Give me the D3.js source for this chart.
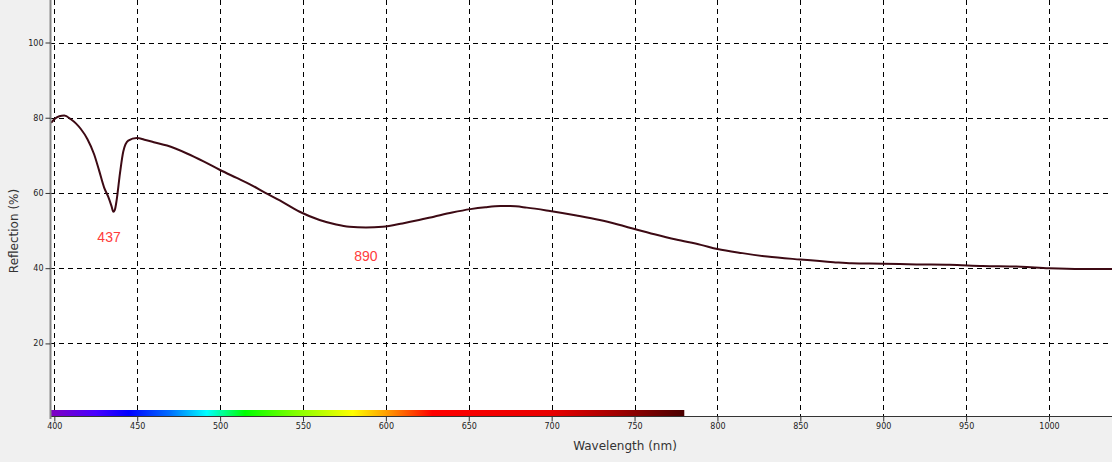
<!DOCTYPE html>
<html lang="en">
<head>
<meta charset="UTF-8">
<title>Reflection</title>
<style>
  html, body { margin: 0; padding: 0; background: #f0f0f0; }
  svg { display: block; }
</style>
</head>
<body>
<script src="https://cdn.jsdelivr.net/npm/d3@7"></script>
<script>
// wavelength (nm) and reflection (%)
var wavelength = [398, 400, 403, 406, 410, 413, 416, 420, 424, 427, 430, 432.5, 434.5, 435.6, 436.5, 437.6,
                  439.6, 441.6, 444.6, 449.7, 455, 460, 468, 480, 490, 500, 510, 518, 527, 536, 548, 560,
                  570, 578, 588, 598, 610, 620, 629, 640, 651, 660, 669, 675, 685, 699, 715, 729, 740, 750,
                  762, 775, 790, 800, 815, 830, 850, 870, 881, 900, 920, 940, 960, 983, 1000, 1020, 1038];
var reflection = [78.6, 79.6, 80.4, 80.6, 79.6, 78.5, 77.0, 74.3, 70.3, 66.0, 61.5, 59.0, 56.5, 55.0, 55.5, 58.1,
                  65.2, 71.0, 73.9, 74.6, 74.1, 73.5, 72.6, 70.5, 68.4, 66.1, 64.0, 62.3, 60.1, 58.0, 55.0, 52.8,
                  51.6, 51.0, 50.8, 51.0, 51.9, 52.8, 53.7, 54.8, 55.7, 56.2, 56.5, 56.5, 56.1, 55.2, 54.0, 52.8, 51.6, 50.4,
                  49.0, 47.6, 46.2, 45.1, 44.0, 43.1, 42.3, 41.6, 41.3, 41.2, 41.0, 40.9, 40.6, 40.4, 40.0, 39.8, 39.8];

var xTicks = [400, 450, 500, 550, 600, 650, 700, 750, 800, 850, 900, 950, 1000];
var yTicks = [20, 40, 60, 80, 100];

// peak labels
var markLabels = ["437", "890"];
var markX = [433, 588];
var markY = [47.0, 42.0];

// visible spectrum bar
var spectrumNm = [398, 425, 445, 470, 492, 515, 545, 580, 600, 628, 700, 740, 780];
var spectrumColor = ["#8000c0", "#4800ff", "#0000ff", "#0070ff", "#00ffff", "#00ff00", "#80ff00",
                     "#ffff00", "#ffa000", "#ff0000", "#e80000", "#a00000", "#4a0000"];

var width = 1112, height = 462;
var plotLeft = 50, plotRight = 1112, plotTop = 0, plotBottom = 416;

var svg = d3.select("body").append("svg")
    .attr("width", width)
    .attr("height", height);

var x = d3.scaleLinear().domain([398, 1038]).range([plotLeft + 1, plotRight]);
var y = d3.scaleLinear().domain([0.7, 111.3]).range([plotBottom, plotTop]);

// plot background
svg.append("rect")
    .attr("x", plotLeft).attr("y", plotTop)
    .attr("width", plotRight - plotLeft).attr("height", plotBottom - plotTop)
    .attr("fill", "#ffffff");

// grid
svg.append("g").selectAll("line").data(xTicks).enter().append("line")
    .attr("x1", function(d) { return Math.round(x(d)) + 0.5; })
    .attr("x2", function(d) { return Math.round(x(d)) + 0.5; })
    .attr("y1", plotTop).attr("y2", plotBottom)
    .attr("stroke", "#000").attr("stroke-dasharray", "5,4");

svg.append("g").selectAll("line").data(yTicks).enter().append("line")
    .attr("x1", plotLeft).attr("x2", plotRight)
    .attr("y1", function(d) { return Math.round(y(d)) + 0.5; })
    .attr("y2", function(d) { return Math.round(y(d)) + 0.5; })
    .attr("stroke", "#000").attr("stroke-dasharray", "5,4");

// spectrum bar
var grad = svg.append("defs").append("linearGradient")
    .attr("id", "spec")
    .attr("gradientUnits", "userSpaceOnUse")
    .attr("x1", x(398)).attr("x2", x(780))
    .attr("y1", 0).attr("y2", 0);
grad.selectAll("stop").data(spectrumNm).enter().append("stop")
    .attr("offset", function(d) { return (d - 398) / (780 - 398); })
    .attr("stop-color", function(d, i) { return spectrumColor[i]; });

svg.append("rect")
    .attr("x", x(398)).attr("y", plotBottom - 6)
    .attr("width", x(780) - x(398)).attr("height", 6)
    .attr("fill", "url(#spec)");

// curve
var line = d3.line()
    .x(function(d, i) { return x(wavelength[i]); })
    .y(function(d) { return y(d); })
    .curve(d3.curveMonotoneX);

svg.append("path")
    .datum(reflection)
    .attr("d", line)
    .attr("fill", "none")
    .attr("stroke", "#3d0a14")
    .attr("stroke-width", 2);

// labels on the curve
svg.append("g").selectAll("text").data(markLabels).enter().append("text")
    .attr("x", function(d, i) { return x(markX[i]); })
    .attr("y", function(d, i) { return y(markY[i]); })
    .attr("text-anchor", "middle")
    .attr("font-family", "Liberation Sans, Arial, sans-serif")
    .attr("font-size", "14px")
    .attr("fill", "#ff3b3b")
    .text(function(d) { return d; });

// axes
var xAxis = d3.axisBottom(x).tickValues(xTicks).tickSize(5).tickPadding(2).tickFormat(d3.format("d"));
var yAxis = d3.axisLeft(y).tickValues(yTicks).tickSize(5).tickPadding(2).tickFormat(d3.format("d"));

var gx = svg.append("g").attr("transform", "translate(0," + (plotBottom + 0.5) + ")").call(xAxis);
gx.select(".domain").attr("d", "M" + plotLeft + ",0H" + plotRight).attr("stroke", "#333");
gx.selectAll(".tick line").attr("stroke", "#333");
gx.selectAll("text").attr("font-family", "DejaVu Sans, sans-serif").attr("font-size", "8px").attr("fill", "#222");

var gy = svg.append("g").attr("transform", "translate(" + (plotLeft + 0.5) + ",0)").call(yAxis);
gy.select(".domain").attr("d", "M0," + plotTop + "V" + (plotBottom + 3)).attr("stroke", "#888").attr("stroke-width", 2);
gy.selectAll(".tick line").attr("stroke", "#333");
gy.selectAll("text").attr("font-family", "DejaVu Sans, sans-serif").attr("font-size", "8px").attr("fill", "#222");

// axis titles
svg.append("text")
    .attr("x", 625).attr("y", 450)
    .attr("text-anchor", "middle")
    .attr("font-family", "DejaVu Sans, sans-serif")
    .attr("font-size", "12px")
    .attr("fill", "#333")
    .text("Wavelength (nm)");

svg.append("text")
    .attr("transform", "translate(18,231) rotate(-90)")
    .attr("text-anchor", "middle")
    .attr("font-family", "DejaVu Sans, sans-serif")
    .attr("font-size", "12px")
    .attr("fill", "#333")
    .text("Reflection (%)");
</script>
</body>
</html>
